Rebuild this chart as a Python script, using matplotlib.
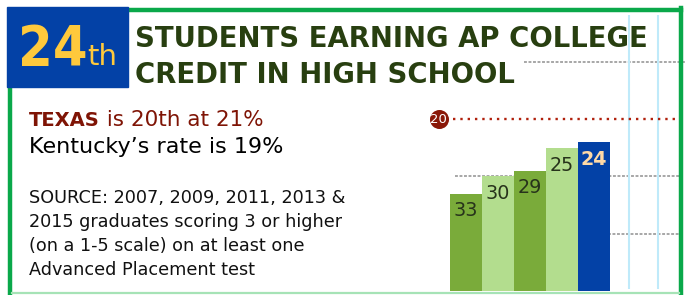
import matplotlib.pyplot as plt
from matplotlib.lines import Line2D
from matplotlib.patches import Rectangle

# data
years = ['2007', '2009', '2011', '2013', '2015']
ranks = [33, 30, 29, 25, 24]
bar_colors = ['#7aab3a', '#b3dd8e', '#7aab3a', '#b3dd8e', '#0341a6']
texas_rank = 20
grid_ranks = [10, 30, 40]
rank_label = '24'
title_lines = ['STUDENTS EARNING AP COLLEGE', 'CREDIT IN HIGH SCHOOL']
source_lines = ['SOURCE: 2007, 2009, 2011, 2013 &',
                '2015 graduates scoring 3 or higher',
                '(on a 1-5 scale) on at least one',
                'Advanced Placement test']

W, H = 691, 295
fig = plt.figure(figsize=(W / 100, H / 100), dpi=100)

def fx(x):
    return x / W

def fy(y):
    return 1 - y / H

# chart axes over the whole figure (one bar = 32 px, rank unit ~5.7 px)
ax = fig.add_axes([0, 0, 1, 1])
ax.set_xlim(-14.5625, 7.03125)
ax.set_ylim(50.7, -0.83)
ax.axis('off')

ax.bar(range(len(ranks)), [50 - r for r in ranks], bottom=ranks, width=1.0,
       color=bar_colors, zorder=3)

for i, r in enumerate(ranks):
    last = i == len(ranks) - 1
    ax.annotate(str(r), (i, r), xytext=(0, -5.5), textcoords='offset points',
                ha='center', va='top', fontsize=13.8,
                fontweight='bold' if last else 'normal',
                color='#ffd9a6' if last else '#27331b', zorder=4)

# gray dashed rank lines
dash = dict(color='#a0a0a0', lw=1.3, ls=(0, (1.6, 0.9)), zorder=1)
ax.hlines(grid_ranks[0], 1.8, 6.85, **dash)
ax.hlines(grid_ranks[1], -0.34, 6.65, **dash)
ax.hlines(grid_ranks[2], -0.5, 6.65, **dash)

# light blue guides
ax.vlines([5.09, 6.0], 1.8, 49.7, color='#bfeafa', lw=1.5, zorder=2)

# Texas marker line
ax.hlines(texas_rank, -0.42, 6.72, color='#b0200c', lw=1.7, ls=(0, (1, 2.1)), zorder=2)
ax.plot(-0.853, texas_rank, 'o', ms=13.7, color='#8a1808', mec='none', zorder=5)
ax.text(-0.853, texas_rank, str(texas_rank), ha='center', va='center',
        fontsize=9.5, color='white', zorder=6)

# frame
green = '#0aa84a'
fig.add_artist(Line2D([fx(10), fx(10)], [fy(80), fy(293)], color=green, lw=3.2, zorder=1))
fig.add_artist(Line2D([fx(120), fx(681)], [fy(9.5), fy(9.5)], color=green, lw=3.2, zorder=1))
fig.add_artist(Line2D([fx(681), fx(681)], [fy(7.5), fy(293)], color=green, lw=3.2, zorder=1))
fig.add_artist(Line2D([fx(12), fx(679)], [fy(292.8), fy(292.8)], color='#a6e3b6', lw=1.6, zorder=1))

# rank box
fig.add_artist(Rectangle((fx(7), fy(87)), fx(128) - fx(7), fy(7) - fy(87),
                         transform=fig.transFigure, color='#0341a6', zorder=3))
renderer = fig.canvas.get_renderer()
big = fig.text(fx(18), fy(65), rank_label, fontsize=40, fontweight='bold',
               stretch='condensed', color='#ffc93c', va='baseline', zorder=4)
big_end = big.get_window_extent(renderer).x1
fig.text(big_end / W, fy(65), 'th', fontsize=21, color='#ffc93c',
         va='baseline', zorder=4)

# title
fig.text(fx(135), fy(47), title_lines[0], fontsize=19.8, fontweight='bold',
         color='#283f10', va='baseline', zorder=3)
fig.text(fx(135), fy(83), title_lines[1], fontsize=19.8, fontweight='bold',
         color='#283f10', va='baseline', zorder=3)

# left notes
t1 = fig.text(fx(29), fy(126), 'TEXAS', fontsize=14, fontweight='bold',
              color='#7f1405', va='baseline')
x_end = t1.get_window_extent(renderer).x1
fig.text(x_end / W, fy(126), ' is 20th at 21%', fontsize=15.5,
         color='#7f1405', va='baseline')
fig.text(fx(29), fy(153.3), 'Kentucky\u2019s rate is 19%', fontsize=16,
         color='black', va='baseline')

for k, line in enumerate(source_lines):
    fig.text(fx(29), fy(203.3 + 24 * k), line, fontsize=12.7,
             color='#111111', va='baseline')

fig.savefig('out.png', dpi=100)
